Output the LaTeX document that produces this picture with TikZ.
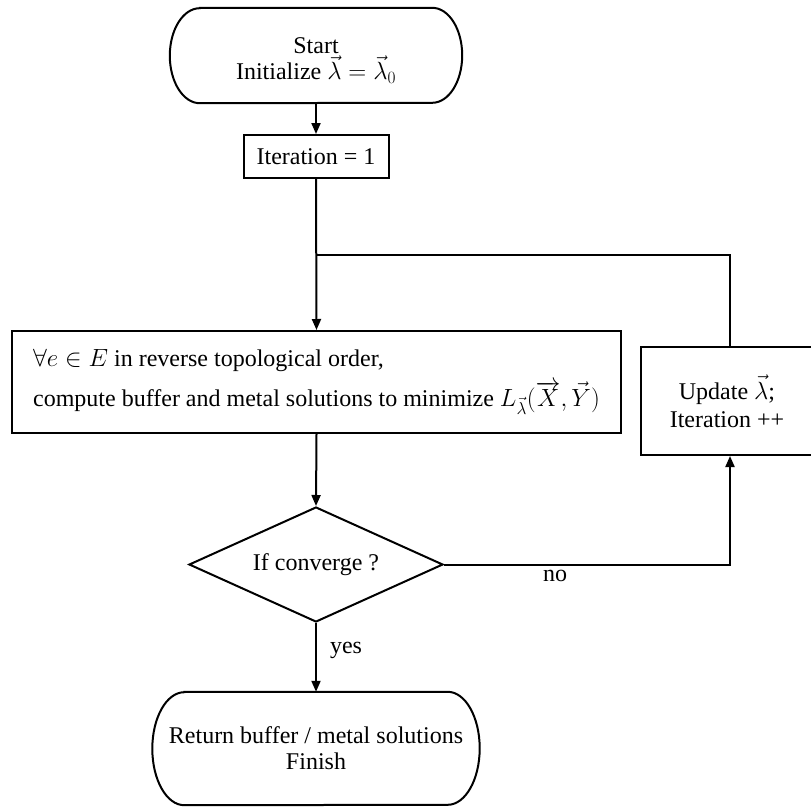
\documentclass[tikz,border=0pt]{standalone}
\usepackage{fontspec}
\setmainfont{Liberation Serif}
\usetikzlibrary{shapes.geometric,arrows.meta}
\tikzset{
  every node/.style={font=\fontsize{24}{28}\selectfont},
  conn/.style={line width=2pt},
  tip/.style={-{Triangle[length=11pt,width=9pt]}},
  boxnode/.style={draw,line width=2pt,inner sep=0pt},
  termnode/.style={inner sep=0pt,align=center},
  decide/.style={draw,diamond,line width=2pt,inner sep=0pt,aspect=2.2},
}
\begin{document}
\begin{tikzpicture}[x=1pt,y=-1pt]
\useasboundingbox (0,0) rectangle (811,806);
% start terminal
\node[termnode,minimum width=292pt,minimum height=95pt] (start) at (316,55.5) {};
\node[termnode] (starttext) at (316,60.5)
  {Start\\[-2pt]Initialize $\vec{\lambda}=\vec{\lambda}_0$};
\draw[conn] ([xshift=30pt]start.north west) -- ([xshift=-30pt]start.north east)
  arc[start angle=90,end angle=-90,x radius=30pt,y radius=47.5pt]
  -- ([xshift=30pt]start.south west)
  arc[start angle=270,end angle=90,x radius=30pt,y radius=47.5pt] -- cycle;
% iteration box
\node[boxnode,minimum width=145pt,minimum height=43pt] (iter) at (316,156.5) {Iteration = 1};
% main box
\node[boxnode,minimum width=609pt,minimum height=102pt,align=left] (main) at (316.5,382)
  {$\forall e\in E$ in reverse topological order,\\[8pt]
   compute buffer and metal solutions to minimize $L_{\vec{\lambda}}(\overrightarrow{X},\vec{Y})$};
% update box (its right edge lies just outside the picture)
\node[boxnode,minimum width=172pt,minimum height=108pt,align=center] (update) at (727,401)
  {Update $\vec{\lambda}$;\\Iteration ++};
% decision
\node[decide,minimum width=254pt,minimum height=115pt] (dia) at (316,564.5) {If converge ?};
% finish terminal
\node[termnode,minimum width=327pt,minimum height=113pt] (fin) at (316,748.5)
  {Return buffer / metal solutions\\[-2pt]Finish};
\draw[conn] ([xshift=32pt]fin.north west) -- ([xshift=-32pt]fin.north east)
  arc[start angle=90,end angle=-90,x radius=32pt,y radius=56.5pt]
  -- ([xshift=32pt]fin.south west)
  arc[start angle=270,end angle=90,x radius=32pt,y radius=56.5pt] -- cycle;
% connectors
\coordinate (j) at (316,255);
\coordinate (lx) at (730,255);
\draw[conn,tip] (start.south) -- (iter.north);
\draw[conn,tip] (iter.south) -- (main.north);
\draw[conn] (update.north -| lx) -- (lx) -- (j);
\draw[conn,tip] (main.south) -- (dia.north);
\draw[conn,tip] (dia.east) -| (update.south -| lx);
\draw[conn,tip] (dia.south) -- (fin.north);
\node (yes) at (346,650) {yes};
\node (no) at (555,576) {no};
\end{tikzpicture}
\end{document}
